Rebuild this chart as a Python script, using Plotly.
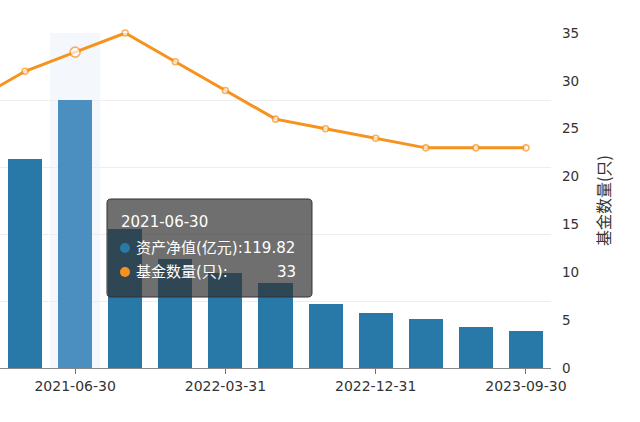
import plotly.graph_objects as go

# ---------------- data ----------------
dates = ["2020-12-31", "2021-03-31", "2021-06-30", "2021-09-30", "2021-12-31",
         "2022-03-31", "2022-06-30", "2022-09-30", "2022-12-31", "2023-03-31",
         "2023-06-30", "2023-09-30"]
net_assets = [80.0, 93.6, 119.82, 62.2, 48.8, 42.5, 38.1, 28.7, 24.6, 21.9, 18.4, 16.6]
fund_counts = [28, 31, 33, 35, 32, 29, 26, 25, 24, 23, 23, 23]
tick_labels = ["2021-06-30", "2022-03-31", "2022-12-31", "2023-09-30"]
nav_name = "资产净值(亿元)"
cnt_name = "基金数量(只)"
hi = 2  # hovered category

# ---------------- layout constants ----------------
W, H = 640, 422
L, R, T, B = 0, 89, 33, 54
PW, PH = W - L - R, H - T - B
BAR_C = "#2878a8"
BAR_HI = "#4a8fc0"
LINE_C = "#f6921e"
NUM_FONT = "DejaVu Sans, Noto Sans CJK SC, sans-serif"
CJK_FONT = "Noto Sans CJK SC, DejaVu Sans, sans-serif"


def px(x):
    return (x - L) / PW


def py(y):
    return (H - B - y) / PH


bar_colors = [BAR_HI if i == hi else BAR_C for i in range(len(dates))]
marker_sizes = [10 if i == hi else 6 for i in range(len(dates))]

fig = go.Figure()
fig.add_trace(go.Bar(
    x=dates, y=net_assets, name=nav_name, marker_color=bar_colors,
    marker_line_width=0, width=0.68, yaxis="y"))
fig.add_trace(go.Scatter(
    x=dates, y=fund_counts, name=cnt_name, mode="lines+markers", yaxis="y2",
    line=dict(color=LINE_C, width=3), cliponaxis=False,
    marker=dict(size=marker_sizes, color="white", line=dict(color=LINE_C, width=1.6))))

shapes = []
# hover shadow band
shapes.append(dict(type="rect", xref="x", yref="paper", x0=hi - 0.5, x1=hi + 0.5,
                   y0=0, y1=1, fillcolor="rgba(170,190,230,0.13)", line_width=0,
                   layer="below"))

# tooltip box with rounded corners
x0, x1, y0, y1, r = 107, 312, 199, 297, 4


def P(x, y):
    return f"{px(x):.5f},{py(y):.5f}"


path = (f"M {P(x0 + r, y0)} L {P(x1 - r, y0)} Q {P(x1, y0)} {P(x1, y0 + r)} "
        f"L {P(x1, y1 - r)} Q {P(x1, y1)} {P(x1 - r, y1)} "
        f"L {P(x0 + r, y1)} Q {P(x0, y1)} {P(x0, y1 - r)} "
        f"L {P(x0, y0 + r)} Q {P(x0, y0)} {P(x0 + r, y0)} Z")
shapes.append(dict(type="path", xref="paper", yref="paper", path=path,
                   fillcolor="rgba(50,50,50,0.7)", line=dict(color="#333333", width=1),
                   layer="above"))
for cy, col in [(248, BAR_C), (272, LINE_C)]:
    shapes.append(dict(type="circle", xref="paper", yref="paper",
                       x0=px(120), x1=px(130), y0=py(cy + 5), y1=py(cy - 5),
                       fillcolor=col, line_width=0, layer="above"))

tt_font = dict(family=NUM_FONT, size=15, color="white")
annotations = [
    dict(xref="paper", yref="paper", x=px(119), y=py(222), text=dates[hi],
         xanchor="left", yanchor="middle", showarrow=False, font=tt_font),
    dict(xref="paper", yref="paper", x=px(134), y=py(248),
         text=f"{nav_name}:{net_assets[hi]:.2f}",
         xanchor="left", yanchor="middle", showarrow=False, font=tt_font),
    dict(xref="paper", yref="paper", x=px(134), y=py(272), text=f"{cnt_name}:",
         xanchor="left", yanchor="middle", showarrow=False, font=tt_font),
    dict(xref="paper", yref="paper", x=px(298), y=py(272), text=f"{fund_counts[hi]}",
         xanchor="right", yanchor="middle", showarrow=False, font=tt_font),
]

fig.update_layout(
    width=W, height=H,
    margin=dict(l=L, r=R, t=T, b=B, autoexpand=False),
    paper_bgcolor="white", plot_bgcolor="white",
    showlegend=False,
    bargap=0,
    xaxis=dict(type="category", range=[0.5, len(dates) - 0.5],
               tickmode="array", tickvals=tick_labels, ticktext=tick_labels,
               ticks="outside", ticklen=5, tickcolor="#6e7079",
               showline=True, linecolor="#8a8a8a", linewidth=1,
               showgrid=False, zeroline=False,
               tickfont=dict(family=NUM_FONT, size=14, color="#333333")),
    yaxis=dict(range=[0, 150], dtick=30, showgrid=True, gridcolor="#eeeeee",
               gridwidth=1, zeroline=False, showticklabels=False, showline=False,
               automargin=False),
    yaxis2=dict(range=[0, 35], dtick=5, overlaying="y", side="right",
                showgrid=False, zeroline=False, showline=False,
                ticks="", ticklabelstandoff=10, automargin=False,
                tickfont=dict(family=NUM_FONT, size=13.5, color="#333333"),
                title=dict(text=cnt_name, standoff=20,
                           font=dict(family=CJK_FONT, size=16, color="#333333"))),
    shapes=shapes,
    annotations=annotations,
)

fig.write_html("out.html", config={"displayModeBar": False},
               post_script="document.body.style.margin='0';document.body.style.padding='0';")
